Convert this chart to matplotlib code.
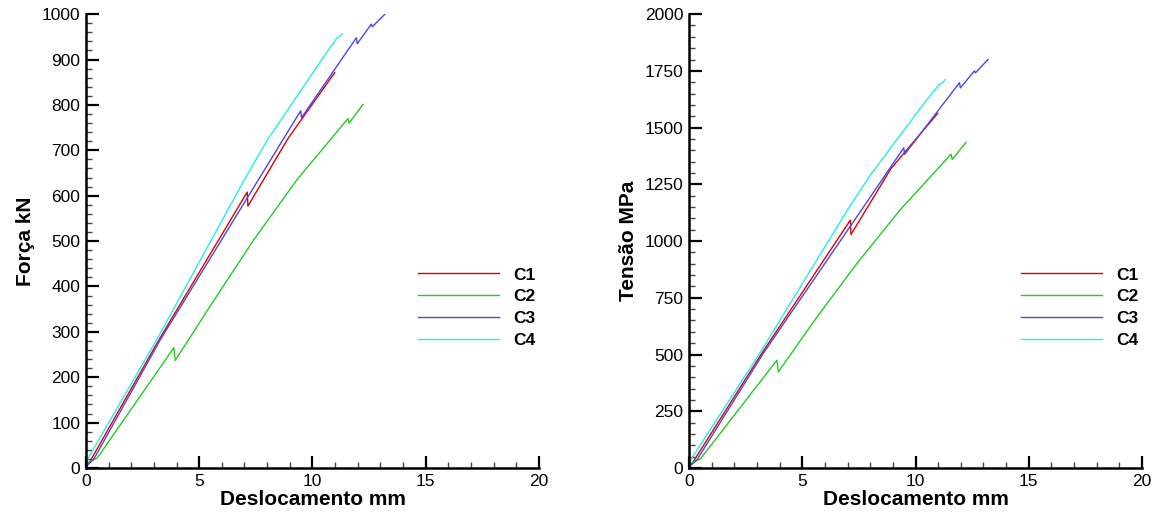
import matplotlib
matplotlib.use("Agg")
import matplotlib.pyplot as plt
from matplotlib.ticker import MultipleLocator

plt.rcParams['font.family'] = ['Liberation Sans', 'DejaVu Sans']

# ---- data (x in mm) ----
c1_x = [0, 0.15, 3.23, 7.12, 7.15, 8.92, 10.98]
c1_forca = [3, 12, 283, 608, 577, 726, 871]
c1_tensao = [5, 22, 508, 1092, 1029, 1320, 1563]

c2_x = [0, 0.5, 3.88, 3.94, 5.5, 7.4, 9.3, 11.57, 11.62, 12.23]
c2_forca = [10, 22, 265, 237, 358, 502, 634, 770, 760, 801]
c2_tensao = [18, 40, 475, 423, 645, 900, 1135, 1383, 1360, 1435]

c3_x = [0, 0.35, 3.29, 7.6, 9.48, 9.52, 11.94, 11.98, 12.6, 12.64, 13.2]
c3_forca = [3, 20, 283, 634, 787, 772, 948, 935, 978, 972, 1000]
c3_tensao = [5, 36, 507, 1135, 1411, 1382, 1698, 1675, 1750, 1741, 1800]

c4_x = [0, 0.1, 3.15, 6.98, 8.0, 10.4, 11.06, 11.17, 11.32]
c4_forca = [10, 22, 285, 634, 722, 899, 946, 950, 957]
c4_tensao = [18, 40, 510, 1135, 1290, 1610, 1692, 1695, 1712]

labels = ['C1', 'C2', 'C3', 'C4']
colors = ['#dd0000', '#22cc22', '#4848ee', '#22eeee']


def draw_panel(ax, ys, ylabel, ymax, ymajor, yminor):
    xs = [c1_x, c2_x, c3_x, c4_x]
    for x, y, lab, col in zip(xs, ys, labels, colors):
        ax.plot(x, y, color=col, lw=1.0, label=lab)
    ax.set_xlim(0, 20)
    ax.set_ylim(0, ymax)
    ax.xaxis.set_major_locator(MultipleLocator(5))
    ax.xaxis.set_minor_locator(MultipleLocator(1))
    ax.yaxis.set_major_locator(MultipleLocator(ymajor))
    ax.yaxis.set_minor_locator(MultipleLocator(yminor))
    for s in ['top', 'right']:
        ax.spines[s].set_visible(False)
    for s in ['left', 'bottom']:
        ax.spines[s].set_linewidth(1.8)
    ax.tick_params(which='major', direction='in', length=9, width=1.6,
                   labelsize=12.5, pad=4)
    ax.tick_params(which='minor', direction='in', length=4.5, width=1.0,
                   color='#444444')
    ax.set_xlabel('Deslocamento mm', fontsize=15, fontweight='bold', labelpad=1)
    ax.set_ylabel(ylabel, fontsize=15, fontweight='bold', labelpad=5)
    ax.legend(loc='upper left', bbox_to_anchor=(0.733, 0.442),
              frameon=False, borderaxespad=0, borderpad=0,
              handlelength=4.66, handletextpad=0.8, labelspacing=0.38,
              prop={'size': 12.5, 'weight': 'bold'})


fig = plt.figure(figsize=(11.6, 5.14), dpi=100)
ax1 = fig.add_axes([0.0741, 0.0895, 0.3905, 0.883])
ax2 = fig.add_axes([0.594, 0.0895, 0.3905, 0.883])

draw_panel(ax1, [c1_forca, c2_forca, c3_forca, c4_forca], 'Força kN', 1000, 100, 20)
draw_panel(ax2, [c1_tensao, c2_tensao, c3_tensao, c4_tensao], 'Tensão MPa', 2000, 250, 50)

fig.savefig('out.png', dpi=100)
